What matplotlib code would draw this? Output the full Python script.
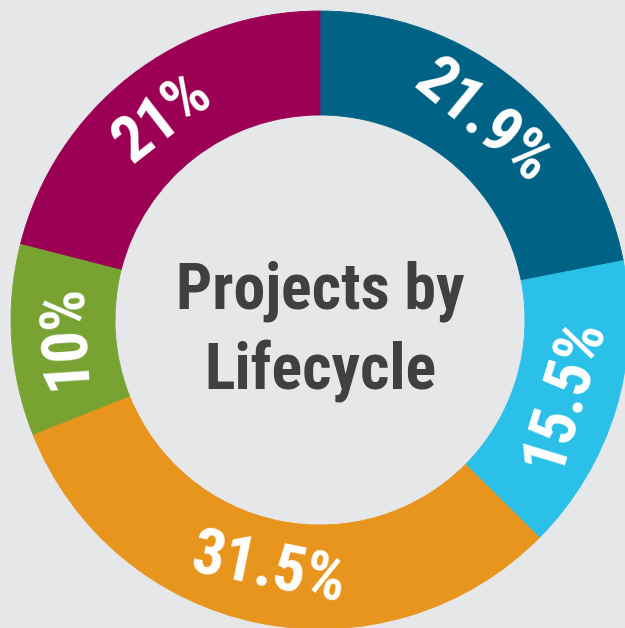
import numpy as np
import matplotlib
matplotlib.use("Agg")
import matplotlib.pyplot as plt

# valores del donut, en sentido horario desde arriba
shares = [21.9, 15.5, 31.5, 10, 21]
labels = ["21.9%", "15.5%", "31.5%", "10%", "21%"]
colors = ["#006385", "#2bc0e8", "#e8951d", "#78a232", "#9c0054"]
title_lines = ["Projects by", "Lifecycle"]

BG = "#e6e7e9"
W, H = 625, 628
CX, CY = 320, H - 320
R_OUT, R_IN = 309, 205
FONT = ["Roboto Condensed", "Roboto", "DejaVu Sans"]

fig = plt.figure(figsize=(W / 100, H / 100), dpi=100, facecolor=BG)
ax = fig.add_axes([0, 0, 1, 1])
ax.set_facecolor(BG)

wedges, _ = ax.pie(
    shares, colors=colors, startangle=90, counterclock=False,
    radius=R_OUT, center=(CX, CY),
    wedgeprops=dict(width=R_OUT - R_IN, linewidth=0.6),
)
for w, c in zip(wedges, colors):
    w.set_edgecolor(c)
ax.set_xlim(0, W)
ax.set_ylim(0, H)
ax.set_aspect("equal")
ax.axis("off")

r_lab = (R_OUT + R_IN) / 2 - 2
for w, txt in zip(wedges, labels):
    ang = (w.theta1 + w.theta2) / 2
    x = CX + r_lab * np.cos(np.radians(ang))
    y = CY + r_lab * np.sin(np.radians(ang))
    rot = (ang - 90 + 180) % 360 - 180
    if rot > 100:
        rot -= 180
    elif rot < -100:
        rot += 180
    ax.text(x, y, txt, rotation=rot, rotation_mode="anchor",
            ha="center", va="center", color="white", fontsize=46,
            fontweight="bold", family=FONT)

# texto central
ax.text(CX, H - 309, title_lines[0], ha="center", va="baseline",
        fontsize=46, fontweight="bold", color="#404042", family=FONT)
ax.text(CX, H - 389, title_lines[1], ha="center", va="baseline",
        fontsize=46, fontweight="bold", color="#404042", family=FONT)

fig.savefig("out.png", dpi=100, facecolor=BG)
